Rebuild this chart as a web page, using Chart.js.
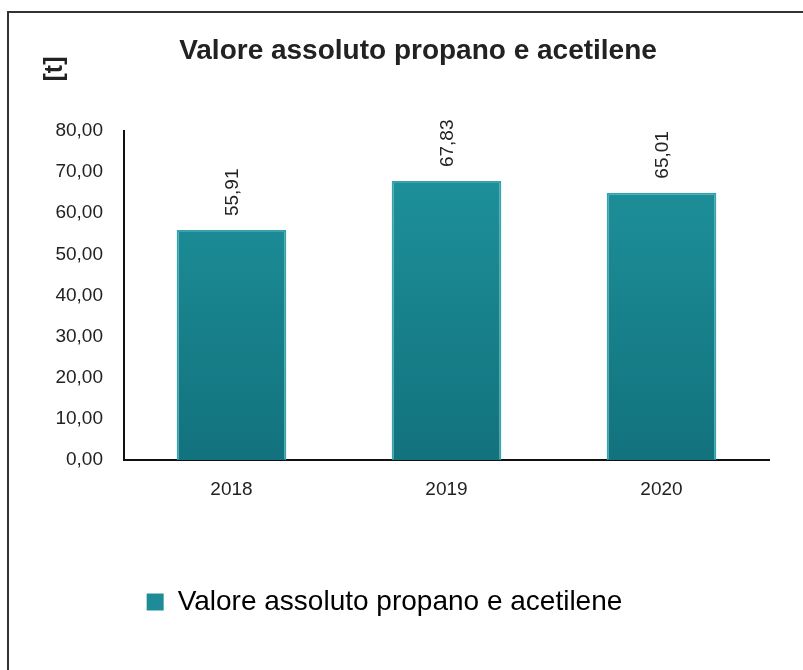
<!DOCTYPE html>
<html lang="it">
<head>
    <meta charset="UTF-8">
    <title>Valore assoluto propano e acetilene</title>
    <script src="https://cdn.jsdelivr.net/npm/chart.js@4.4.0/dist/chart.umd.min.js"></script>
    <style>
        body {
            margin: 0;
            background: #fff;
            font-family: "Liberation Sans", Arial, sans-serif;
        }
        #wrap {
            position: relative;
            width: 803px;
            height: 670px;
            overflow: hidden;
        }
        #cornice {
            position: absolute;
            left: 7px;
            top: 11px;
            width: 820px;
            height: 700px;
            border-left: 2px solid #333;
            border-top: 2px solid #333;
        }
        canvas {
            position: absolute;
            left: 0;
            top: 0;
        }
    </style>
</head>
<body>
    <div id="wrap">
        <div id="cornice"></div>
        <canvas id="grafico" width="803" height="670"></canvas>
    </div>

    <script>
        const anni = ['2018', '2019', '2020'];
        const valori = [55.91, 67.83, 65.01];
        const nomeSerie = 'Valore assoluto propano e acetilene';
        const titolo = 'Valore assoluto propano e acetilene';
        const unita = '[t]';

        const font = '"Liberation Sans", Arial, sans-serif';
        const virgola = v => v.toFixed(2).replace('.', ',');

        // colore delle barre: sfumatura verticale verde acqua
        function coloreBarra(context) {
            const area = context.chart.chartArea;
            if (!area) return '#1a8a94';
            const g = context.chart.ctx.createLinearGradient(0, area.top, 0, area.bottom);
            g.addColorStop(0, '#1f959e');
            g.addColorStop(1, '#12727d');
            return g;
        }

        // titolo e unità di misura
        const intestazione = {
            id: 'intestazione',
            afterDraw(chart) {
                const ctx = chart.ctx;
                ctx.save();
                ctx.fillStyle = '#222';
                ctx.font = 'bold 28px ' + font;
                ctx.textAlign = 'center';
                ctx.textBaseline = 'middle';
                ctx.fillText(titolo, 418, 51);
                ctx.translate(55, 69);
                ctx.rotate(-Math.PI / 2);
                ctx.font = 'bold 25px ' + font;
                ctx.fillText(unita, 0, 0);
                ctx.restore();
            }
        };

        // etichette dei valori sopra le barre, ruotate
        const etichette = {
            id: 'etichette',
            afterDatasetsDraw(chart) {
                const ctx = chart.ctx;
                const meta = chart.getDatasetMeta(0);
                ctx.save();
                ctx.fillStyle = '#222';
                ctx.font = '19px ' + font;
                ctx.textAlign = 'left';
                ctx.textBaseline = 'middle';
                meta.data.forEach((bar, i) => {
                    ctx.save();
                    ctx.translate(bar.x + 1, bar.y - 14);
                    ctx.rotate(-Math.PI / 2);
                    ctx.fillText(virgola(valori[i]), 0, 0);
                    ctx.restore();
                });
                ctx.restore();
            }
        };

        new Chart(document.getElementById('grafico'), {
            type: 'bar',
            data: {
                labels: anni,
                datasets: [{
                    label: nomeSerie,
                    data: valori,
                    backgroundColor: coloreBarra,
                    borderColor: '#34a3ab',
                    borderWidth: 2,
                    categoryPercentage: 1,
                    barPercentage: 0.51
                }]
            },
            options: {
                responsive: false,
                animation: false,
                layout: {
                    padding: { top: 131, right: 34, bottom: 44, left: 0 }
                },
                plugins: {
                    title: { display: false },
                    tooltip: { enabled: false },
                    legend: {
                        position: 'bottom',
                        labels: {
                            color: '#222',
                            font: { family: font, size: 28 },
                            boxWidth: 17,
                            boxHeight: 17,
                            padding: 10,
                            generateLabels() {
                                return [{
                                    text: nomeSerie,
                                    fillStyle: '#1d8c96',
                                    strokeStyle: '#1d8c96',
                                    lineWidth: 0
                                }];
                            }
                        }
                    }
                },
                scales: {
                    x: {
                        grid: { display: false },
                        border: { display: true, color: '#111', width: 2 },
                        ticks: {
                            color: '#222',
                            font: { family: font, size: 19 },
                            padding: 10
                        },
                        afterFit(scale) { scale.height = 118; }
                    },
                    y: {
                        min: 0,
                        max: 80,
                        grid: { display: false },
                        border: { display: true, color: '#111', width: 2 },
                        ticks: {
                            stepSize: 10,
                            color: '#222',
                            font: { family: font, size: 19 },
                            padding: 13,
                            callback: v => virgola(v)
                        },
                        afterFit(scale) { scale.width = 124; }
                    }
                }
            },
            plugins: [intestazione, etichette]
        });
    </script>
</body>
</html>
